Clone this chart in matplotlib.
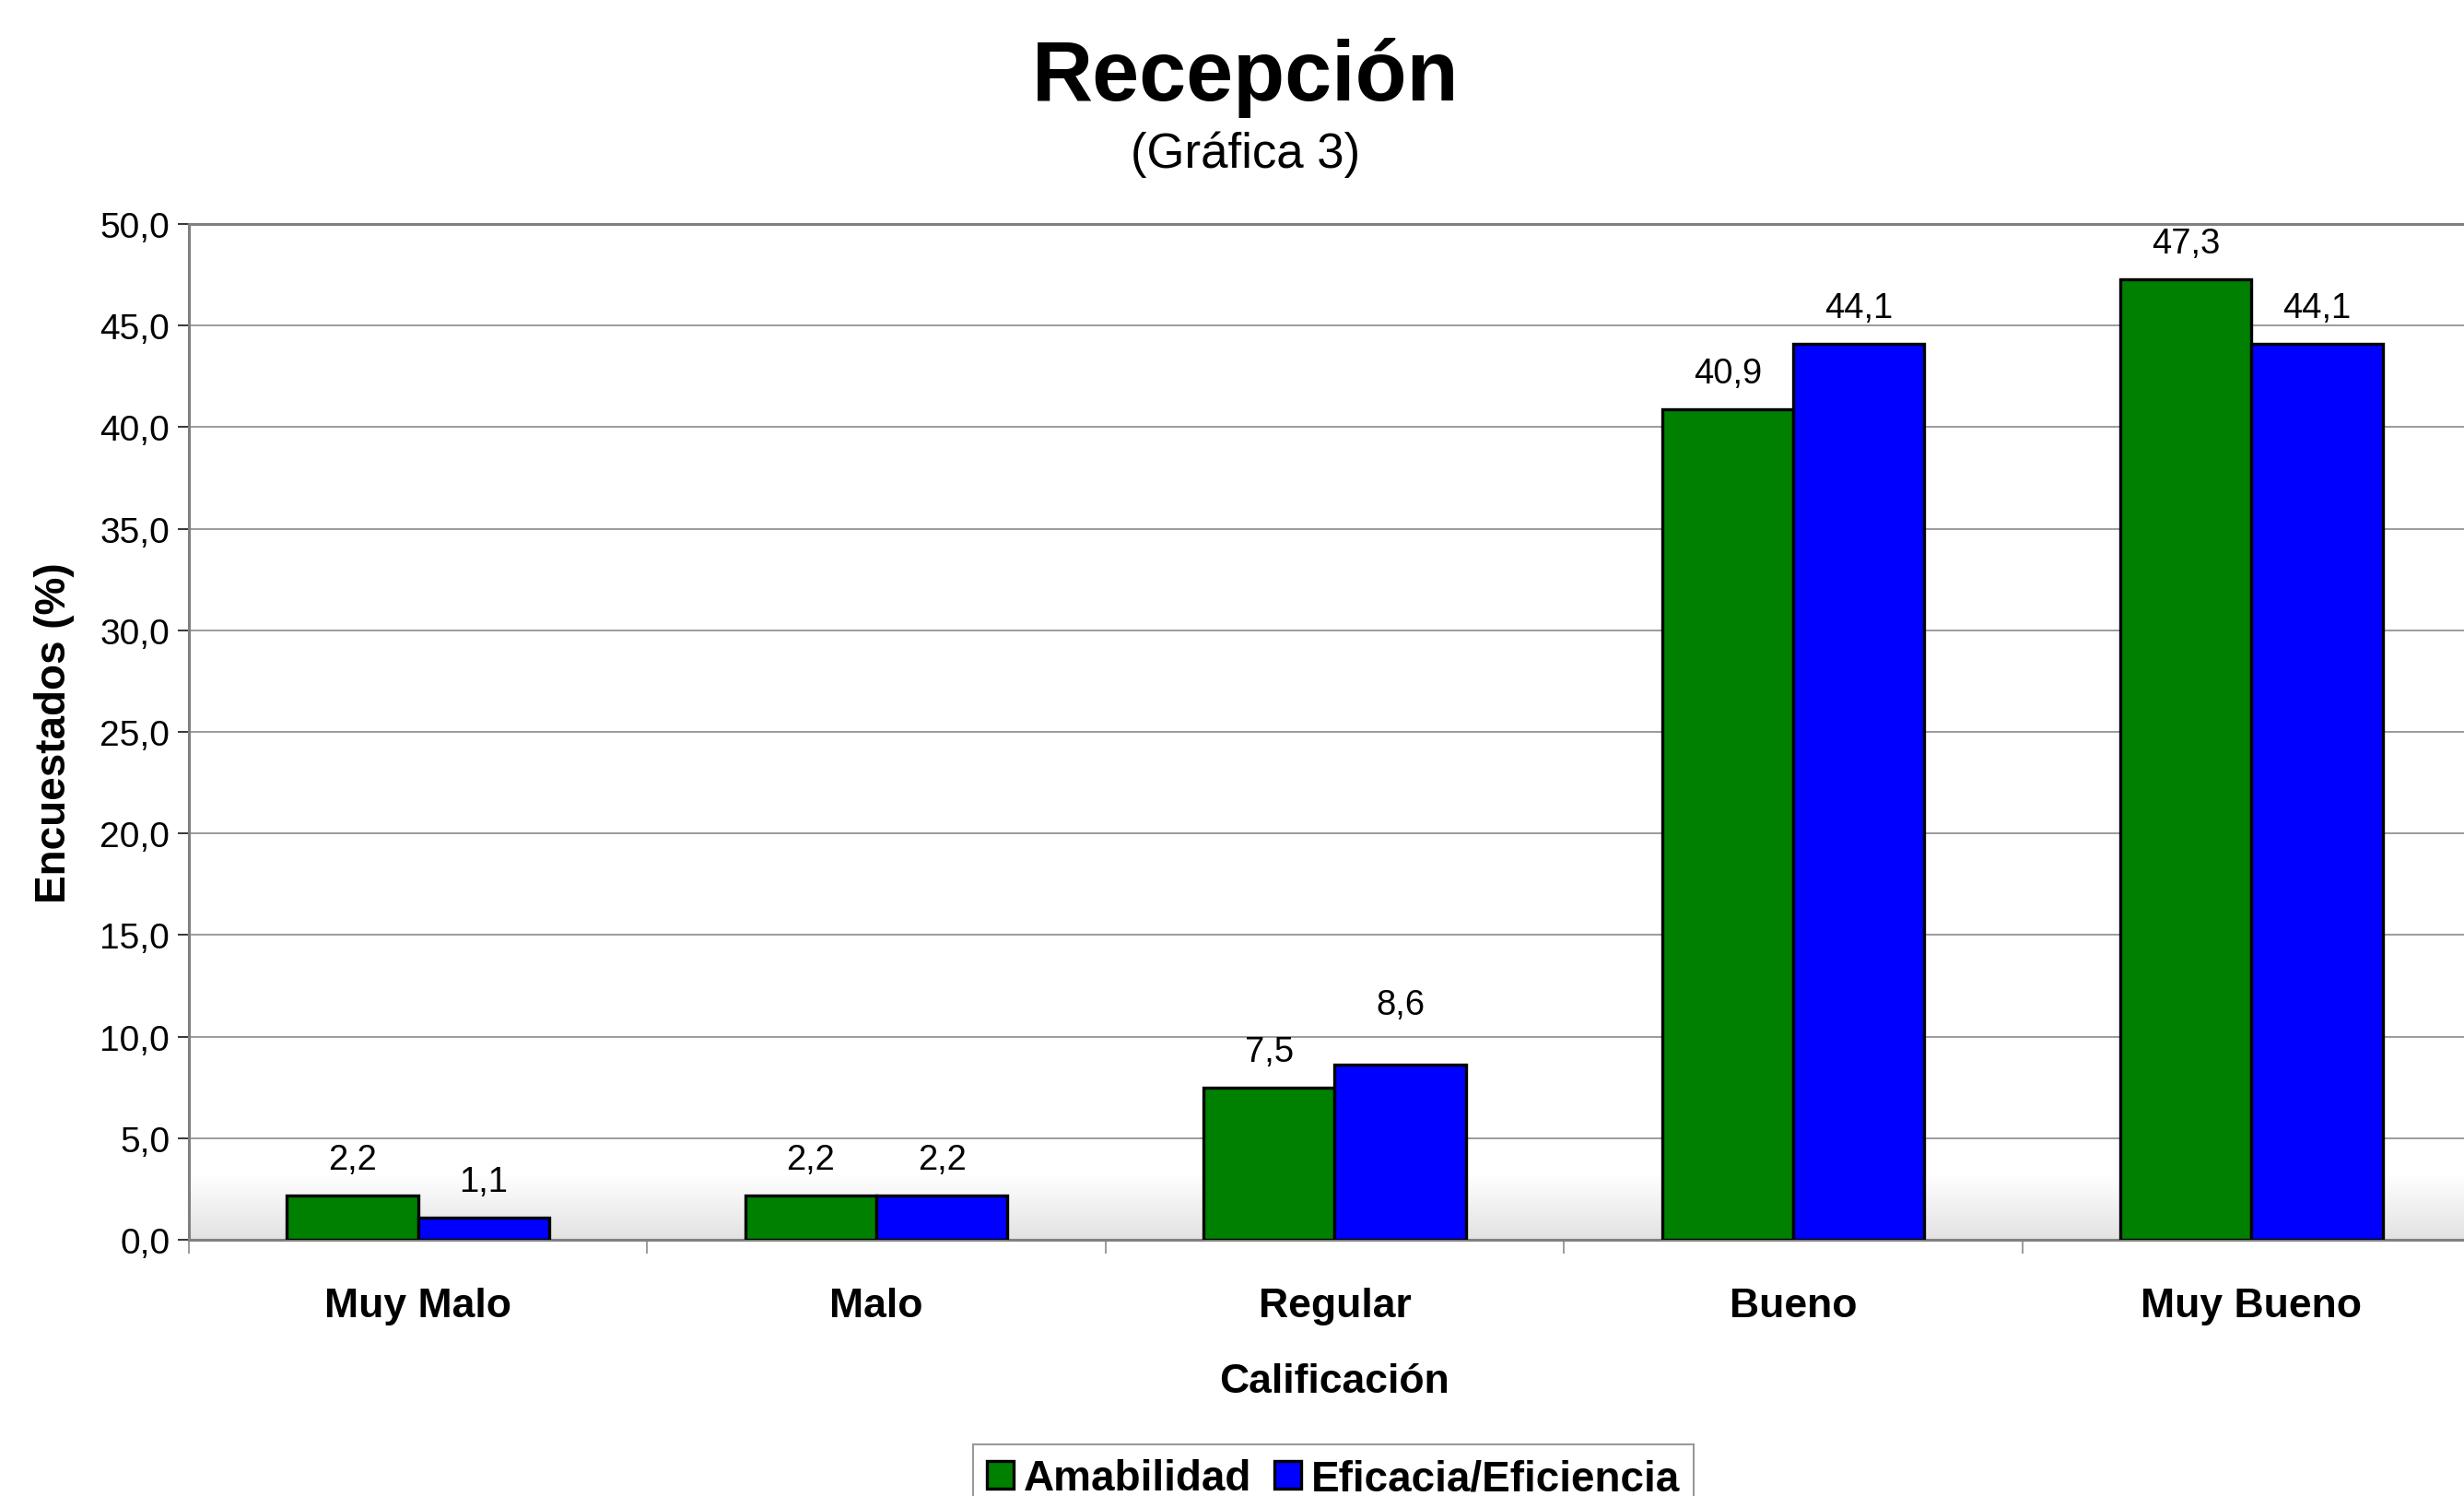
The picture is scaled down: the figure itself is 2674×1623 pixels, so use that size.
import numpy as np
import matplotlib
matplotlib.use("Agg")
import matplotlib.pyplot as plt
from matplotlib.colors import LinearSegmentedColormap

plt.rcParams['font.family'] = ['Liberation Sans', 'DejaVu Sans']

categorias = ["Muy Malo", "Malo", "Regular", "Bueno", "Muy Bueno"]
amabilidad = [2.2, 2.2, 7.5, 40.9, 47.3]
eficacia = [1.1, 2.2, 8.6, 44.1, 44.1]
series_nombres = ["Amabilidad", "Eficacia/Eficiencia"]
yticks = [0, 5, 10, 15, 20, 25, 30, 35, 40, 45, 50]

W, H = 2674, 1624
fig = plt.figure(figsize=(W / 100, H / 100), dpi=100)
ax = fig.add_axes([205 / W, 1 - 1346 / H, 2487 / W, 1102 / H])

x = np.arange(len(categorias))
bw = 0.286
grid_col = "#808080"

# soft grey band along the floor of the plot
cmap = LinearSegmentedColormap.from_list("floor", ["#ffffff", "#e2e2e2"])
grad = np.linspace(0, 1, 256).reshape(-1, 1)
ax.imshow(grad, cmap=cmap, aspect="auto", extent=[-0.5, 4.5, 0, 3.2],
          origin="upper", zorder=0)

for v in yticks[1:]:
    ax.axhline(v, color=grid_col, lw=1.1, zorder=1)

b1 = ax.bar(x - bw / 2, amabilidad, bw, color="#008000", edgecolor="black",
            linewidth=2.4, zorder=3, label=series_nombres[0])
b2 = ax.bar(x + bw / 2, eficacia, bw, color="#0000ff", edgecolor="black",
            linewidth=2.4, zorder=3, label=series_nombres[1])

# value labels; the "Regular" blue label sits a little higher to clear its neighbour
for s, (bars, vals) in enumerate(((b1, amabilidad), (b2, eficacia))):
    for i, (rect, v) in enumerate(zip(bars, vals)):
        dy = 47 if (s == 1 and i == 2) else 28
        ax.annotate(f"{v:.1f}".replace(".", ","),
                    (rect.get_x() + rect.get_width() / 2, v),
                    xytext=(0, dy), textcoords="offset points",
                    ha="center", va="center", fontsize=27.5, zorder=4)

ax.set_xlim(-0.5, 4.5)
ax.set_ylim(0, 50)
ax.set_yticks(yticks)
ax.set_yticklabels([f"{v:.1f}".replace(".", ",") for v in yticks], fontsize=28)
ax.tick_params(axis="y", length=9, width=1.1, color="black", pad=6)

ax.set_xticks(x)
ax.set_xticklabels(categorias, fontsize=32, fontweight="bold")
ax.tick_params(axis="x", which="major", length=0, pad=37)
ax.set_xticks(np.arange(-0.5, 5, 1), minor=True)
ax.tick_params(axis="x", which="minor", length=11, width=1.1, color=grid_col)

for s in ("left", "bottom", "top"):
    ax.spines[s].set_color(grid_col)
    ax.spines[s].set_linewidth(2.2)
ax.spines["right"].set_visible(False)

ax.set_ylabel("Encuestados (%)", fontsize=33, fontweight="bold", labelpad=20)
ax.set_xlabel("Calificación", fontsize=32, fontweight="bold", labelpad=29)

fig.text(0.5056, 1 - 109 / H, "Recepción", ha="center", va="baseline",
         fontsize=66, fontweight="bold")
fig.text(0.5056, 1 - 182 / H, "(Gráfica 3)", ha="center", va="baseline",
         fontsize=38)

leg = fig.legend(handles=[b1, b2], labels=series_nombres, loc="upper center",
                 bbox_to_anchor=(1447 / W, 1 - 1568 / H), ncol=2,
                 prop={"size": 33, "weight": "bold"}, frameon=True,
                 fancybox=False, handlelength=0.62, handleheight=0.64,
                 handletextpad=0.24, columnspacing=0.55, borderpad=0.33,
                 borderaxespad=0)
leg.get_frame().set_edgecolor(grid_col)
leg.get_frame().set_linewidth(1.5)

fig.savefig("out.png", dpi=100)
